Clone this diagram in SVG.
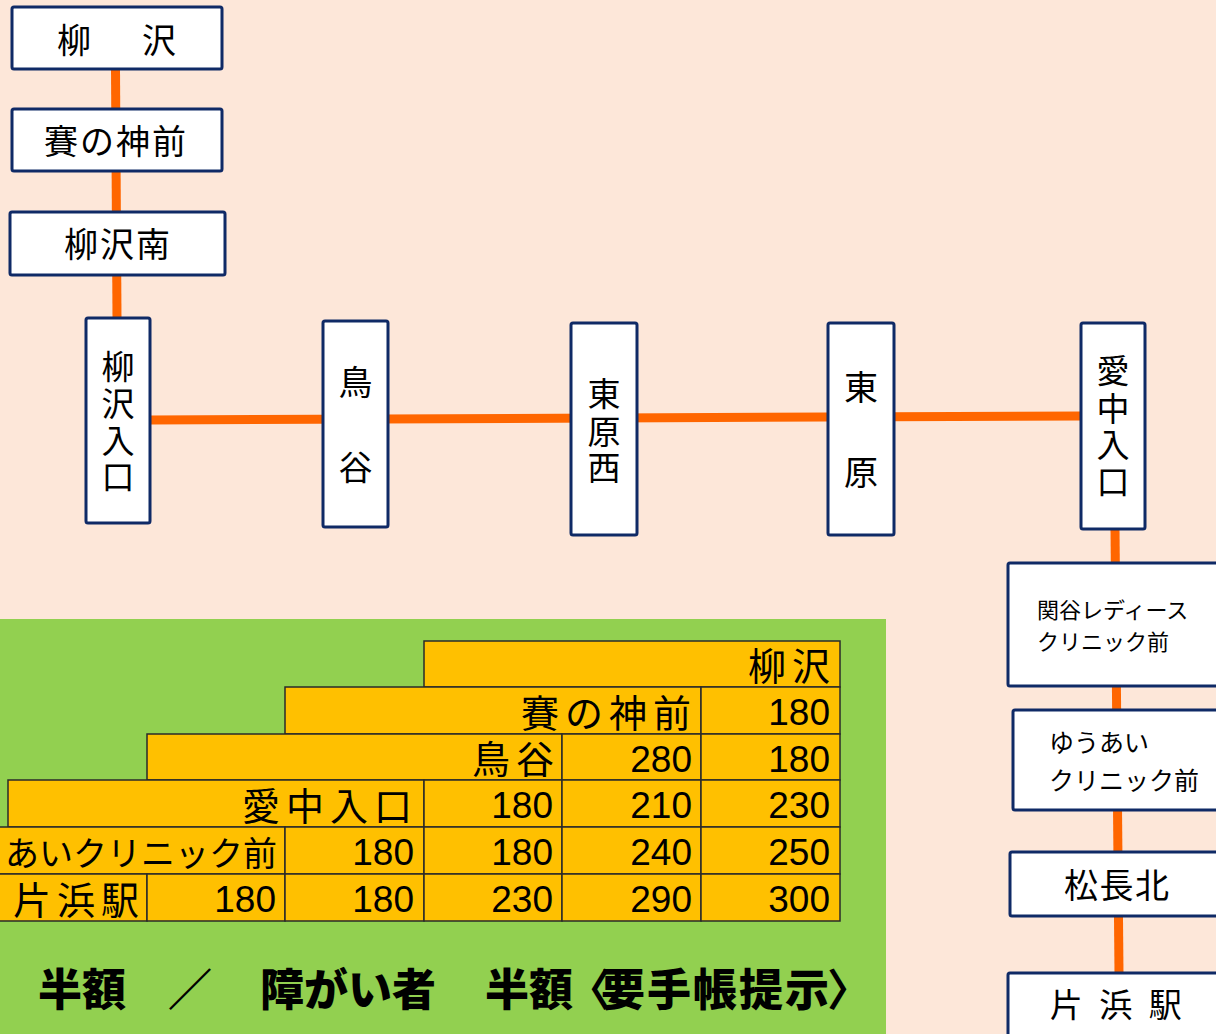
<svg xmlns="http://www.w3.org/2000/svg" width="1216" height="1034" viewBox="0 0 1216 1034">
<style>
.node{fill:#ffffff;stroke:#0f2a66;stroke-width:3}
.lbl{font-family:"Noto Sans CJK JP","Noto Sans",sans-serif;fill:#000}
.conn{stroke:#ff6600;stroke-width:9;fill:none;stroke-linecap:butt}
.cell{fill:#ffc000;stroke:#2a2a2a;stroke-width:1.5}
.tl{font-family:"Noto Sans CJK JP",sans-serif;font-size:38px;letter-spacing:6px;text-anchor:end;fill:#000}
.tl2{font-family:"Noto Sans CJK JP",sans-serif;font-size:34px;text-anchor:end;fill:#000}
.tn{font-family:"Liberation Sans","Noto Sans CJK JP",sans-serif;font-size:37px;text-anchor:end;fill:#000}
.foot{font-family:"Noto Sans CJK JP",sans-serif;font-size:44px;font-weight:900;fill:#000}
</style>
<rect x="0" y="0" width="1216" height="1034" fill="#fde7d9"/>
<rect x="0" y="619" width="886" height="415" fill="#92d050"/>

<g id="connectors">
<line class="conn" x1="115.5" y1="69" x2="117" y2="318"/>
<line class="conn" x1="150" y1="420" x2="1081" y2="416"/>
<line class="conn" x1="1115" y1="529" x2="1119" y2="973"/>
</g>

<g id="n-yanagisawa">
<rect class="node" x="12" y="7" width="210" height="62" rx="2"/>
<text class="lbl" x="57" y="53" font-size="34" letter-spacing="8.5">柳　沢</text>
</g>
<g id="n-sainokami">
<rect class="node" x="12" y="109" width="210" height="62" rx="2"/>
<text class="lbl" x="44" y="154" font-size="34" letter-spacing="2">賽の神前</text>
</g>
<g id="n-yanagisawaminami">
<rect class="node" x="10" y="212" width="215" height="63" rx="2"/>
<text class="lbl" x="64" y="257" font-size="34" letter-spacing="2">柳沢南</text>
</g>
<g id="n-yanagisawairiguchi">
<rect class="node" x="86" y="318" width="64" height="205" rx="2"/>
<text class="lbl" font-size="33" text-anchor="middle"><tspan x="118" y="379">柳</tspan><tspan x="118" y="416">沢</tspan><tspan x="118" y="453">入</tspan><tspan x="118" y="489">口</tspan></text>
</g>
<g id="n-toriya">
<rect class="node" x="323" y="321" width="65" height="206" rx="2"/>
<text class="lbl" font-size="34" text-anchor="middle"><tspan x="355.5" y="395">鳥</tspan><tspan x="355.5" y="480">谷</tspan></text>
</g>
<g id="n-higashiharanishi">
<rect class="node" x="571" y="323" width="66" height="212" rx="2"/>
<text class="lbl" font-size="33" text-anchor="middle"><tspan x="604" y="406">東</tspan><tspan x="604" y="444">原</tspan><tspan x="604" y="480">西</tspan></text>
</g>
<g id="n-higashihara">
<rect class="node" x="828" y="323" width="66" height="212" rx="2"/>
<text class="lbl" font-size="34" text-anchor="middle"><tspan x="861" y="400">東</tspan><tspan x="861" y="485">原</tspan></text>
</g>
<g id="n-ainakairiguchi">
<rect class="node" x="1081" y="323" width="64" height="206" rx="2"/>
<text class="lbl" font-size="33" text-anchor="middle"><tspan x="1113" y="383">愛</tspan><tspan x="1113" y="421">中</tspan><tspan x="1113" y="457">入</tspan><tspan x="1113" y="494">口</tspan></text>
</g>
<g id="n-sekiya">
<rect class="node" x="1008" y="563" width="225" height="123" rx="2"/>
<text class="lbl" font-size="22"><tspan x="1037" y="618">関谷レディース</tspan><tspan x="1037" y="650">クリニック前</tspan></text>
</g>
<g id="n-yuai">
<rect class="node" x="1013" y="710" width="220" height="100" rx="2"/>
<text class="lbl" font-size="25"><tspan x="1049" y="752">ゆうあい</tspan><tspan x="1049" y="790">クリニック前</tspan></text>
</g>
<g id="n-matsunagakita">
<rect class="node" x="1010" y="852" width="223" height="64" rx="2"/>
<text class="lbl" x="1064" y="898" font-size="34" letter-spacing="1.5">松長北</text>
</g>
<g id="n-katahama">
<rect class="node" x="1008" y="973" width="225" height="80" rx="2"/>
<text class="lbl" x="1118" y="1017" font-size="33" text-anchor="middle" letter-spacing="4.5">片 浜 駅</text>
</g>

<g id="fare-table">
<rect class="cell" x="424" y="641" width="416" height="46"/>
<text class="tl" x="836" y="680">柳沢</text>

<rect class="cell" x="285" y="687" width="416" height="47"/>
<rect class="cell" x="701" y="687" width="139" height="47"/>
<text class="tl" x="697" y="727">賽の神前</text>
<text class="tn" x="830" y="725">180</text>

<rect class="cell" x="147" y="734" width="415" height="46"/>
<rect class="cell" x="562" y="734" width="139" height="46"/>
<rect class="cell" x="701" y="734" width="139" height="46"/>
<text class="tl" x="560" y="773">鳥谷</text>
<text class="tn" x="692" y="772">280</text>
<text class="tn" x="830" y="772">180</text>

<rect class="cell" x="8" y="780" width="416" height="47"/>
<rect class="cell" x="424" y="780" width="138" height="47"/>
<rect class="cell" x="562" y="780" width="139" height="47"/>
<rect class="cell" x="701" y="780" width="139" height="47"/>
<text class="tl" x="418" y="820">愛中入口</text>
<text class="tn" x="553" y="818">180</text>
<text class="tn" x="692" y="818">210</text>
<text class="tn" x="830" y="818">230</text>

<rect class="cell" x="-5" y="827" width="290" height="47"/>
<rect class="cell" x="285" y="827" width="139" height="47"/>
<rect class="cell" x="424" y="827" width="138" height="47"/>
<rect class="cell" x="562" y="827" width="139" height="47"/>
<rect class="cell" x="701" y="827" width="139" height="47"/>
<text class="tl2" x="277" y="866">ゆうあいクリニック前</text>
<text class="tn" x="414" y="865">180</text>
<text class="tn" x="553" y="865">180</text>
<text class="tn" x="692" y="865">240</text>
<text class="tn" x="830" y="865">250</text>

<rect class="cell" x="-5" y="874" width="152" height="47"/>
<rect class="cell" x="147" y="874" width="138" height="47"/>
<rect class="cell" x="285" y="874" width="139" height="47"/>
<rect class="cell" x="424" y="874" width="138" height="47"/>
<rect class="cell" x="562" y="874" width="139" height="47"/>
<rect class="cell" x="701" y="874" width="139" height="47"/>
<text class="tl" x="145" y="914">片浜駅</text>
<text class="tn" x="276" y="912">180</text>
<text class="tn" x="414" y="912">180</text>
<text class="tn" x="553" y="912">230</text>
<text class="tn" x="692" y="912">290</text>
<text class="tn" x="830" y="912">300</text>
</g>

<text class="foot" y="1006"><tspan x="38">半額</tspan><tspan x="168">／</tspan><tspan x="260">障がい者</tspan><tspan x="485">半額</tspan><tspan x="567" font-weight="700">〈</tspan><tspan x="601" letter-spacing="2">要手帳提示</tspan><tspan x="827" font-weight="700">〉</tspan></text>
</svg>
